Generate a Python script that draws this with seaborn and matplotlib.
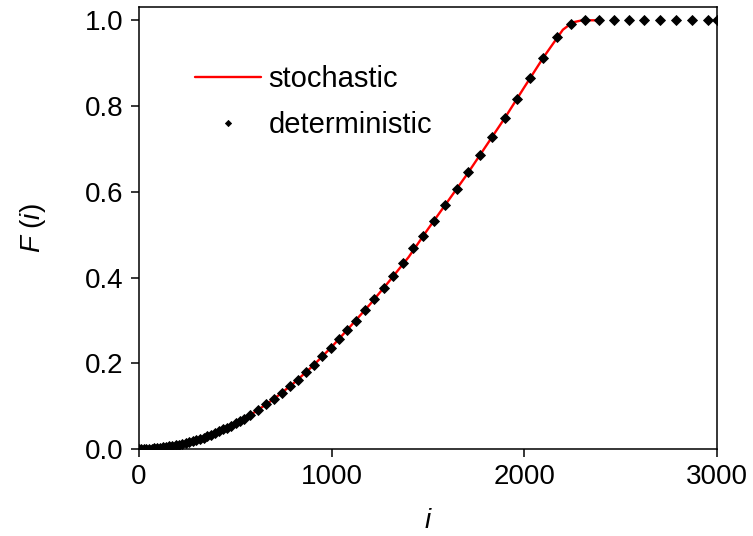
import matplotlib
matplotlib.use("Agg")
import matplotlib.pyplot as plt
import seaborn as sns
import pandas as pd

# stochastic curve (red line)
stoch_i = [0, 100, 200, 300, 400, 500, 600, 700, 800, 900, 1000, 1100, 1200, 1300,
           1400, 1500, 1600, 1700, 1800, 1900, 2000, 2100, 2200, 2250, 2300, 2390]
stoch_F = [0.0, 0.0024, 0.0095, 0.0214, 0.038, 0.0595, 0.0857, 0.1166, 0.1523, 0.1928,
           0.238, 0.2875, 0.338, 0.392, 0.448, 0.513, 0.576, 0.639, 0.706, 0.773,
           0.844, 0.914, 0.978, 0.995, 1.0, 1.0]

# deterministic points (black diamonds)
det_i = [0, 12, 25, 38, 52, 66, 80, 95, 110, 125, 141, 157, 173, 190, 207, 224,
         242, 260, 278, 297, 316, 335, 355, 375, 395, 416, 437, 458, 480, 502, 524,
         546, 576, 616, 657, 699, 741, 783, 825, 867, 909, 951, 994, 1037, 1081, 1126,
         1173, 1220, 1270, 1320, 1372, 1424, 1475, 1532, 1588, 1649, 1709, 1770,
         1830, 1900, 1963, 2029, 2098, 2171, 2241, 2315, 2389, 2465, 2543, 2621,
         2704, 2785, 2872, 2955, 3000]
det_F = [0.0, 0.0000, 0.0001, 0.0003, 0.0006, 0.0010, 0.0015, 0.0021, 0.0029, 0.0037,
         0.0047, 0.0059, 0.0071, 0.0086, 0.0102, 0.0119, 0.0139, 0.0161, 0.0184,
         0.0210, 0.0238, 0.0267, 0.0300, 0.0335, 0.0371, 0.0412, 0.0455, 0.0499,
         0.0548, 0.0600, 0.0654, 0.0710, 0.0793, 0.0905, 0.1040,
         0.1170, 0.1310, 0.1460, 0.1620, 0.1790, 0.1970, 0.2160, 0.2360, 0.2564,
         0.2766, 0.2991, 0.3233, 0.3489, 0.3760, 0.4040, 0.4343, 0.4680, 0.4980,
         0.5320, 0.5680, 0.6060, 0.6450, 0.6860, 0.7280, 0.7730, 0.8170, 0.8650,
         0.9130, 0.9600, 0.9920, 1.0, 1.0, 1.0, 1.0, 1.0, 1.0, 1.0, 1.0, 1.0, 1.0]

x_ticks = [0, 1000, 2000, 3000]
y_ticks = [0.0, 0.2, 0.4, 0.6, 0.8, 1.0]
y_tick_labels = ["0.0", "0.2", "0.4", "0.6", "0.8", "1.0"]

sns.set_style("ticks")
plt.rcParams["font.family"] = ["Liberation Sans", "DejaVu Sans"]
plt.rcParams["mathtext.fontset"] = "custom"
plt.rcParams["mathtext.it"] = "Liberation Sans:italic"
plt.rcParams["text.color"] = "black"
plt.rcParams["axes.labelcolor"] = "black"

df_s = pd.DataFrame({"i": stoch_i, "F": stoch_F})
df_d = pd.DataFrame({"i": det_i, "F": det_F})

fig = plt.figure(figsize=(7.53, 5.36), dpi=100)
ax = fig.add_axes([139 / 753, 1 - 449 / 536, 578 / 753, 442 / 536])

sns.lineplot(data=df_s, x="i", y="F", ax=ax, color="red", linewidth=1.7,
             label="stochastic", zorder=2)
ax.plot(df_d["i"], df_d["F"], linestyle="none", marker="D", markersize=4.8,
        color="black", markeredgewidth=0.6, label="deterministic", zorder=3,
        clip_on=True)

ax.set_xlim(0, 3000)
ax.set_ylim(0, 1.031)
ax.set_xticks(x_ticks)
ax.set_xticklabels([str(t) for t in x_ticks])
ax.set_yticks(y_ticks)
ax.set_yticklabels(y_tick_labels)
ax.tick_params(axis="both", direction="out", length=6, width=1.1, labelsize=20,
               pad=5, color="black", labelcolor="black")
for s in ax.spines.values():
    s.set_visible(True)
    s.set_linewidth(1.1)
    s.set_color("black")

ax.set_xlabel("$i$", fontsize=20, labelpad=13, color="black")
ax.set_ylabel("$F$ ($i$)", fontsize=20, labelpad=27, color="black")

leg = ax.legend(loc="upper left", bbox_to_anchor=(0.097, 0.868), frameon=False,
                fontsize=21, handlelength=2.25, handletextpad=0.27,
                labelspacing=0.6, borderpad=0, borderaxespad=0, markerscale=0.65)
for t in leg.get_texts():
    t.set_color("black")

fig.savefig("out.png", dpi=100)
